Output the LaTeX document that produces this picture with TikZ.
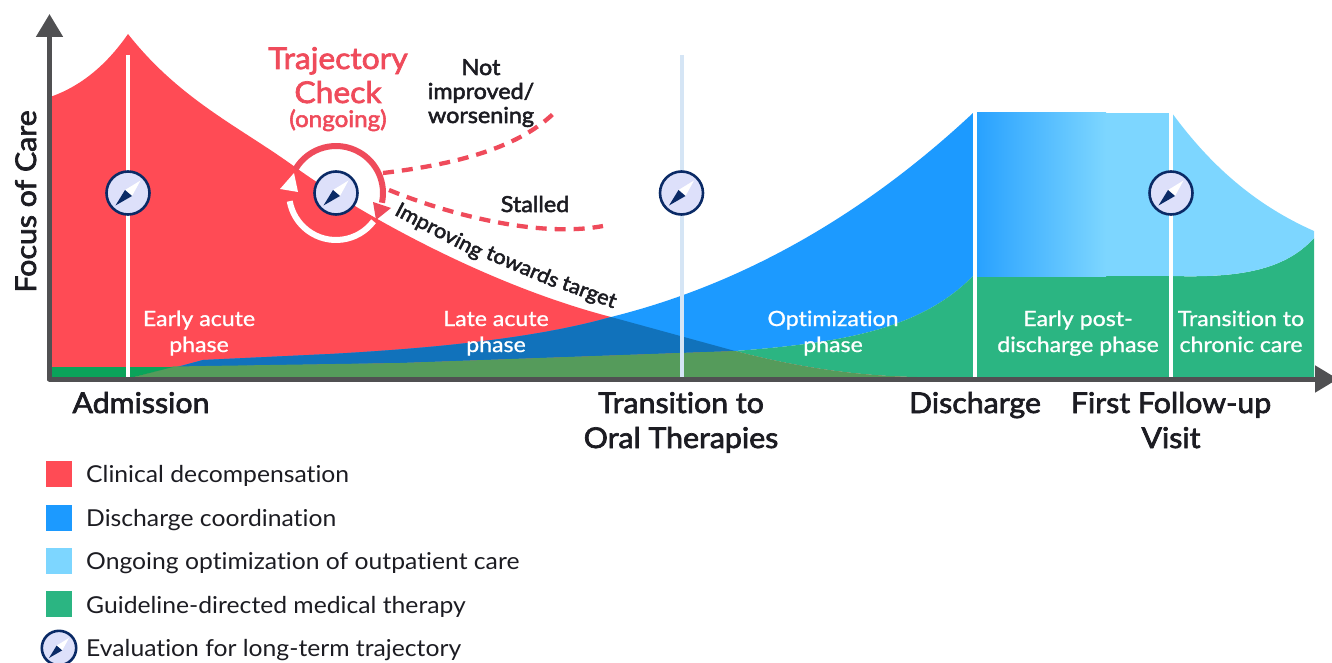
\documentclass[tikz,border=0pt]{standalone}
\usepackage{fontspec}
\setmainfont[FakeStretch=1.06,Ligatures={NoCommon}]{Lato}
\newfontfamily\medfont[FakeBold=2.4,FakeStretch=1.06,Ligatures={NoCommon}]{Lato}
\newfontfamily\phasefont[FakeBold=1.0,FakeStretch=1.1,Ligatures={NoCommon}]{Lato}
\usetikzlibrary{arrows.meta}
\definecolor{cred}{HTML}{FF4B55}
\definecolor{cblue}{HTML}{1C9AFF}
\definecolor{clight}{HTML}{7DD6FF}
\definecolor{cgreen}{HTML}{2BB582}
\definecolor{cdark}{HTML}{1172BB}
\definecolor{cover}{HTML}{559B5B}
\definecolor{cbright}{HTML}{0BA35A}
\definecolor{caxis}{HTML}{505052}
\definecolor{ctraj}{HTML}{EF4B5B}
\definecolor{cnavy}{HTML}{0A2A66}
\definecolor{cface}{HTML}{DDE0FA}
\definecolor{ctext}{HTML}{1C1C22}
\definecolor{cpale}{HTML}{D5E5F5}
\tikzset{
  vline/.style={line width=4pt,white},
  axisline/.style={line width=5pt,caxis,-{Triangle[width=26pt,length=23pt]}},
  phase/.style={anchor=base,white,inner sep=0pt,font=\phasefont\fontsize{21}{23}\selectfont},
  event/.style={anchor=base,ctext,inner sep=0pt,font=\medfont\fontsize{28.6}{30}\selectfont},
  traj/.style={anchor=base,ctraj,inner sep=0pt,font=\medfont\fontsize{30}{32}\selectfont},
  path label/.style={anchor=base,ctext,inner sep=0pt,font=\medfont\fontsize{22}{24}\selectfont},
  slope label/.style={anchor=base,ctext,inner sep=0pt,font=\medfont\fontsize{20.5}{23}\selectfont},
  legtext/.style={anchor=base west,ctext,inner sep=0pt,font=\fontsize{23.3}{26}\selectfont},
  legbox/.style={minimum size=26pt,inner sep=0pt,draw=none},
  dashcurve/.style={line width=4.3pt,ctraj,dash pattern=on 11pt off 8pt},
  ringarc/.style={line width=6pt},
  compass/.pic={
    \node[circle,draw=cnavy,fill=cface,line width=2.6pt,minimum size=43pt,inner sep=0pt] (-ring) at (0,0) {};
    \fill[white] (12.5,-12.5) -- (-3,-3) -- (4,3) -- cycle;
    \fill[cnavy] (-12.5,12.5) -- (-3,-3) -- (4,3) -- cycle;
  }
}
\begin{document}
\begin{tikzpicture}[x=1pt,y=-1pt]
\useasboundingbox (0,0) rectangle (1332,663);
\clip (0,0) rectangle (1332,663);
% areas
\fill[cred] (50,97) .. controls (85,85) and (110,60) .. (128,34)
  .. controls (180,100) and (240,127) .. (295,167)
  .. controls (350,207) and (480,283) .. (611,317)
  -- (735,351) .. controls (800,368) and (860,376) .. (917,377) -- (50,377) -- cycle;
\fill[cblue] (177,367) -- (203,360) -- (330,354) .. controls (420,349) and (530,340) .. (611,317)
  .. controls (760,280) and (880,200) .. (973,113) -- (973,276)
  .. controls (920,330) and (840,343) .. (735,351) -- (400,363) -- cycle;
\fill[cdark] (177,367) -- (203,360) -- (330,354) .. controls (420,349) and (530,340) .. (611,317)
  -- (735,351) -- (400,363) -- cycle;
\fill[cgreen] (735,351) .. controls (840,343) and (920,330) .. (973,276) -- (1172,276)
  .. controls (1240,278) and (1285,270) .. (1314,238) -- (1314,377) -- (917,377)
  .. controls (860,376) and (800,368) .. (735,351) -- cycle;
\fill[cover] (134,377) -- (173,366.5) -- (400,363) -- (735,351)
  .. controls (800,368) and (860,376) .. (917,377) -- cycle;
\fill[cbright] (50,367) -- (173,367) -- (134,377) -- (50,377) -- cycle;
\fill[clight] (1106,113) rectangle (1172,276);
\shade[left color=cblue!90!clight,right color=clight] (973,113) rectangle (1106,276);
\fill[clight] (1172,113) .. controls (1210,165) and (1255,205) .. (1314,231) -- (1314,238)
  .. controls (1285,270) and (1240,278) .. (1172,276) -- cycle;
% vertical lines
\coordinate (admT) at (128,55);   \coordinate (admB) at (128,377);
\coordinate (oralT) at (681.5,55);  \coordinate (oralB) at (681.5,377);
\coordinate (discT) at (974.5,111); \coordinate (discB) at (974.5,377);
\coordinate (fuT) at (1171,111);  \coordinate (fuB) at (1171,377);
\draw[vline] (admT) -- (admB);
\draw[vline,cpale] (oralT) -- (oralB);
\draw[vline] (discT) -- (discB);
\draw[vline] (fuT) -- (fuB);
% axes
\coordinate (org) at (49.5,379);
\coordinate (yend) at (49.5,14);
\coordinate (xend) at (1338,379);
\draw[axisline,line cap=round] (org) -- (yend);
\draw[axisline,line cap=round] (org) -- (xend);
% trajectory ring
\coordinate (cc) at (336,193);
\draw[ringarc,ctraj] (cc) ++(-150:47) arc[start angle=-150,end angle=12,radius=47];
\fill[ctraj] (373,202) -- (391,208) -- (376,220) -- cycle;
\draw[ringarc,white] (cc) ++(37:47) arc[start angle=37,end angle=170,radius=47];
\fill[white] (280,189) -- (298,192) -- (294,173) -- cycle;
% dashed outcome curves
\coordinate (w0) at (383,173); \coordinate (w1) at (553,114);
\coordinate (s0) at (389,190); \coordinate (s1) at (603,226);
\draw[dashcurve] (w0) .. controls (450,165) and (515,150) .. (w1);
\draw[dashcurve] (s0) .. controls (450,215) and (540,238) .. (s1);
% compasses
\pic (c1) at (128,193) {compass};
\pic (c2) at (336,193) {compass};
\pic (c3) at (681.5,193) {compass};
\pic (c4) at (1171,193) {compass};
% texts
\node[traj] (t1) at (338,69) {Trajectory};
\node[traj] (t2) at (338,103) {Check};
\node[anchor=base,ctraj,inner sep=0pt,font=\medfont\fontsize{22.8}{24}\selectfont] (t3) at (338,127) {(ongoing)};
\node[path label] (n1) at (481,75) {Not};
\node[path label] (n2) at (481,99) {improved/};
\node[path label] (n3) at (481,123) {worsening};
\node[path label] (st) at (535,212) {Stalled};
\node[slope label,rotate=-27.5] (i1) at (436,236.5) {Improving};
\node[slope label,rotate=-23] (i2) at (520,273) {towards};
\node[slope label,rotate=-20.5] (i3) at (587,298.5) {target};
\node[phase] (p1a) at (199,326) {Early acute};
\node[phase] (p1b) at (199,352) {phase};
\node[phase] (p2a) at (496,326) {Late acute};
\node[phase] (p2b) at (496,352) {phase};
\node[phase] (p3a) at (833,326) {Optimization};
\node[phase] (p3b) at (833,352) {phase};
\node[phase] (p4a) at (1078,326) {Early post-};
\node[phase] (p4b) at (1078,352) {discharge phase};
\node[phase] (p5a) at (1241,326) {Transition to};
\node[phase] (p5b) at (1241,352) {chronic care};
\node[event] (e1) at (141,413) {Admission};
\node[event] (e2) at (681,413) {Transition to};
\node[event] (e3) at (681,448) {Oral Therapies};
\node[event] (e4) at (975,413) {Discharge};
\node[event] (e5) at (1171,413) {First Follow-up};
\node[event] (e6) at (1171,448) {Visit};
\node[event,rotate=90] (yl) at (36,201.5) {Focus of Care};
% legend
\node[legbox,fill=cred]   (l1) at (59,474) {};
\node[legbox,fill=cblue]  (l2) at (59,518) {};
\node[legbox,fill=clight] (l3) at (59,561) {};
\node[legbox,fill=cgreen] (l4) at (59,604) {};
\pic[scale=0.8,transform shape] (l5) at (59,648) {compass};
\node[legtext] (lt1) at (86,482) {Clinical decompensation};
\node[legtext] (lt2) at (86,526) {Discharge coordination};
\node[legtext] (lt3) at (86,569) {Ongoing optimization of outpatient care};
\node[legtext] (lt4) at (86,613) {Guideline-directed medical therapy};
\node[legtext] (lt5) at (86,656) {Evaluation for long-term trajectory};
\end{tikzpicture}
\end{document}
